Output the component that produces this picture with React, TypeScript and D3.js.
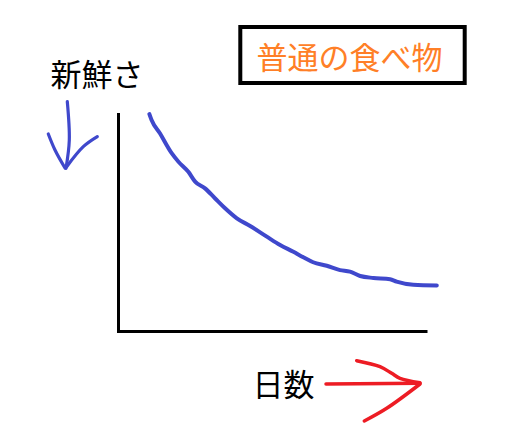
import React, { useEffect, useRef } from "react";
import * as d3 from "d3";

// Data (x = 日数, y = 新鮮さ, both in 0..100 units)
const days = [10.0, 10.7, 13.4, 17.2, 19.4, 22.6, 24.8, 28.0, 31.2, 34.5, 38.3, 42.6, 48.0, 52.3, 56.6, 59.8, 63.0, 67.4, 71.7, 74.9, 78.2, 82.5, 87.9, 90.0, 95.4, 103.0];
const freshness = [99.5, 96.8, 90.7, 81.6, 77.7, 73.1, 68.6, 65.5, 61.0, 56.4, 51.8, 48.3, 43.4, 39.6, 36.5, 34.0, 31.7, 30.1, 28.1, 27.4, 25.4, 24.5, 23.9, 22.8, 21.4, 21.1];

const title = "普通の食べ物";
const yLabel = "新鮮さ";
const xLabel = "日数";

// Hand-drawn arrow annotations (pixel space)
const downArrow = [
  [[67.3, 101.7], [69.3, 140], [66, 168.3]],
  [[48.3, 134], [55, 150], [65, 168]],
  [[97.3, 136.7], [83.3, 146.7], [66.7, 166.7]],
];
const rightArrow = [
  [[326, 384], [420, 383.3]],
  [[356.7, 360.7], [380, 366.7], [391.7, 373.3], [400, 378.3], [420, 382.7]],
  [[420, 384], [386.7, 408.3], [364.3, 421]],
];

const W = 525;
const H = 440;
const FONT = "'Noto Sans CJK JP', sans-serif";

export default function App() {
  const ref = useRef<SVGSVGElement>(null);

  useEffect(() => {
    const svg = d3.select(ref.current);
    svg.selectAll("*").remove();

    const x = d3.scaleLinear().domain([0, 100]).range([118.5, 427.5]);
    const y = d3.scaleLinear().domain([0, 100]).range([331.5, 113]);

    svg.append("rect").attr("width", W).attr("height", H).attr("fill", "#fff");

    // axes
    svg.append("line")
      .attr("x1", x(0)).attr("x2", x(0))
      .attr("y1", y(100)).attr("y2", y(0) + 1.5)
      .attr("stroke", "#000").attr("stroke-width", 3);
    svg.append("line")
      .attr("x1", x(0) - 1.5).attr("x2", x(100))
      .attr("y1", y(0)).attr("y2", y(0))
      .attr("stroke", "#000").attr("stroke-width", 3);

    // curve
    const pts = days.map((d, i) => [d, freshness[i]] as [number, number]);
    const line = d3.line<[number, number]>()
      .x((d) => x(d[0]))
      .y((d) => y(d[1]))
      .curve(d3.curveMonotoneX);
    svg.append("path")
      .attr("d", line(pts))
      .attr("fill", "none")
      .attr("stroke", "#3f48cc")
      .attr("stroke-width", 4)
      .attr("stroke-linecap", "round")
      .attr("stroke-linejoin", "round");

    const pline = d3.line<number[]>().x((d) => d[0]).y((d) => d[1]).curve(d3.curveCatmullRom);

    downArrow.forEach((seg) => {
      svg.append("path").attr("d", pline(seg)).attr("fill", "none")
        .attr("stroke", "#3f48cc").attr("stroke-width", 3.2)
        .attr("stroke-linecap", "round").attr("stroke-linejoin", "round");
    });
    rightArrow.forEach((seg) => {
      svg.append("path").attr("d", pline(seg)).attr("fill", "none")
        .attr("stroke", "#ed1c24").attr("stroke-width", 3.5)
        .attr("stroke-linecap", "round").attr("stroke-linejoin", "round");
    });

    // title box
    svg.append("rect")
      .attr("x", 240.3).attr("y", 27).attr("width", 224.4).attr("height", 56)
      .attr("fill", "none").attr("stroke", "#000").attr("stroke-width", 4);
    svg.append("text")
      .attr("x", 256.5).attr("y", 68.5)
      .attr("font-family", FONT).attr("font-size", 31)
      .attr("fill", "#ff7f27")
      .text(title);

    svg.append("text")
      .attr("x", 50.5).attr("y", 85.5)
      .attr("font-family", FONT).attr("font-size", 31)
      .attr("fill", "#000")
      .text(yLabel);

    svg.append("text")
      .attr("x", 252.5).attr("y", 395.5)
      .attr("font-family", FONT).attr("font-size", 31)
      .attr("fill", "#000")
      .text(xLabel);
  }, []);

  return (
    <svg
      ref={ref}
      width={W}
      height={H}
      style={{ position: "absolute", left: 0, top: 0, display: "block" }}
    />
  );
}
